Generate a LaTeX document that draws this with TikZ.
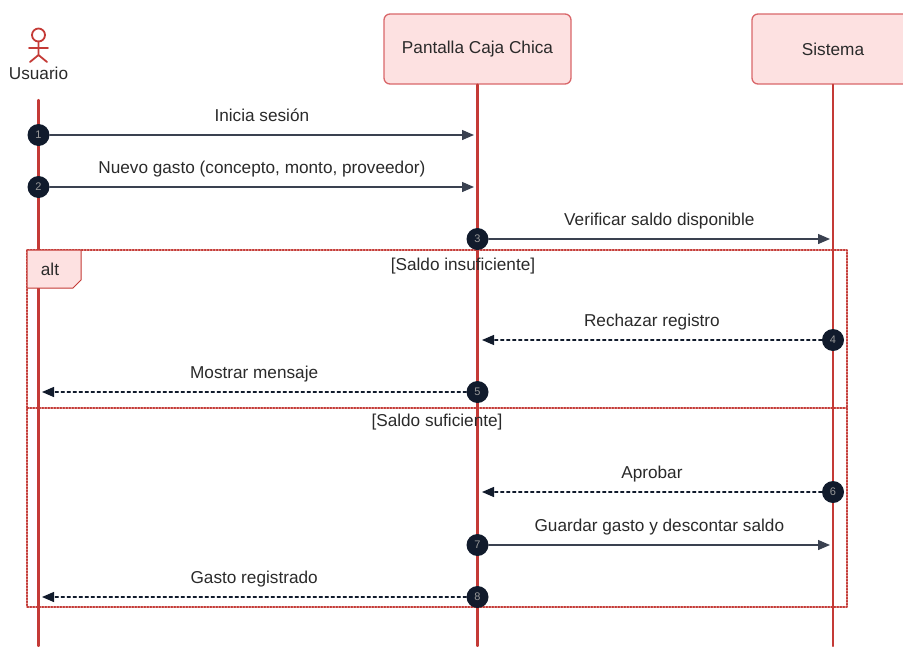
\documentclass[tikz,border=0pt]{standalone}
\usepackage{fontspec}
\setmainfont{Liberation Sans}
\usetikzlibrary{arrows.meta}
\definecolor{lifered}{HTML}{C43A36}
\definecolor{boxfill}{HTML}{FDE1E1}
\definecolor{boxline}{HTML}{D9676A}
\definecolor{navy}{HTML}{111B2C}
\definecolor{msggray}{HTML}{3A4150}
\definecolor{txtgray}{HTML}{2A2A2A}
\tikzset{
  part/.style={draw=boxline,fill=boxfill,line width=1.3pt,rounded corners=6pt,text=txtgray},
  life/.style={draw=lifered,line width=2.2pt},
  num/.style={circle,fill=navy,minimum size=22pt,inner sep=0pt,text=gray!80,font=\fontsize{11}{13}\selectfont},
  msg/.style={draw=msggray,line width=1.3pt,-{Triangle[length=12pt,width=10pt]}},
  reply/.style={msg,draw=navy,dash pattern=on 3pt off 3pt},
  lbl/.style={midway,yshift=17.5pt,text=txtgray,text height=12pt,text depth=3.5pt,inner sep=0pt},
  frame/.style={draw=lifered,line width=1.4pt,dash pattern=on 1.5pt off 1.5pt}
}
\begin{document}
\begin{tikzpicture}[x=1pt,y=-1pt,line cap=round,line join=round,font=\fontsize{17.2}{20}\selectfont]
\useasboundingbox (0,0) rectangle (903,646);
\clip (0,0) rectangle (903,646);
% actor
\draw[lifered,line width=1.8pt] (38.5,35) circle (6.5pt);
\draw[lifered,line width=1.8pt] (38.5,41.5) -- (38.5,55) (29,48) -- (48,48)
  (30,62) -- (38.5,55) -- (47,62);
\node[text=txtgray] (usuario) at (38.5,73) {Usuario};
% participants
\node[part,minimum width=187pt,minimum height=70pt] (pantalla) at (477.5,49) {Pantalla Caja Chica};
\node[part,minimum width=162pt,minimum height=70pt] (sistema) at (833,49) {Sistema};
% lifelines
\coordinate (utop) at (38.5,100);
\coordinate (ubot) at (38.5,646);
\coordinate (pbot) at (477.5,646);
\coordinate (sbot) at (833,646);
\draw[life] (utop) -- (ubot);
\draw[life] (pantalla.south) -- (pbot);
\draw[life] (sistema.south) -- (sbot);
% alt frame
\draw[frame] (27,250) rectangle (847,607);
\draw[frame] (27,408) -- (847,408);
\draw[draw=lifered,fill=boxfill,line width=1pt] (27,250) -- (81,250) -- (81,280) -- (73,288) -- (27,288) -- cycle;
\node[text=txtgray] (alt) at (50,269) {alt};
\node[text=txtgray] (g1) at (463,266) {[Saldo insuficiente]};
\node[text=txtgray] (g2) at (437,422) {[Saldo suficiente]};
% messages
\node[num] (m1) at (38.5,135) {1};
\node[num] (m2) at (38.5,187) {2};
\node[num] (m3) at (477.5,239) {3};
\node[num] (m4) at (833,340) {4};
\node[num] (m5) at (477.5,392) {5};
\node[num] (m6) at (833,492) {6};
\node[num] (m7) at (477.5,545) {7};
\node[num] (m8) at (477.5,597) {8};
\coordinate (t1) at (474,135);
\coordinate (t2) at (474,187);
\coordinate (t3) at (830,239);
\coordinate (t4) at (482,340);
\coordinate (t5) at (42,392);
\coordinate (t6) at (482,492);
\coordinate (t7) at (830,545);
\coordinate (t8) at (42,597);
\draw[msg] (m1) -- node[lbl] {Inicia sesión} (t1);
\draw[msg] (m2) -- node[lbl] {Nuevo gasto (concepto, monto, proveedor)} (t2);
\draw[msg] (m3) -- node[lbl] {Verificar saldo disponible} (t3);
\draw[reply] (m4) -- node[lbl] {Rechazar registro} (t4);
\draw[reply] (m5) -- node[lbl] {Mostrar mensaje} (t5);
\draw[reply] (m6) -- node[lbl] {Aprobar} (t6);
\draw[msg] (m7) -- node[lbl] {Guardar gasto y descontar saldo} (t7);
\draw[reply] (m8) -- node[lbl] {Gasto registrado} (t8);
\end{tikzpicture}
\end{document}
